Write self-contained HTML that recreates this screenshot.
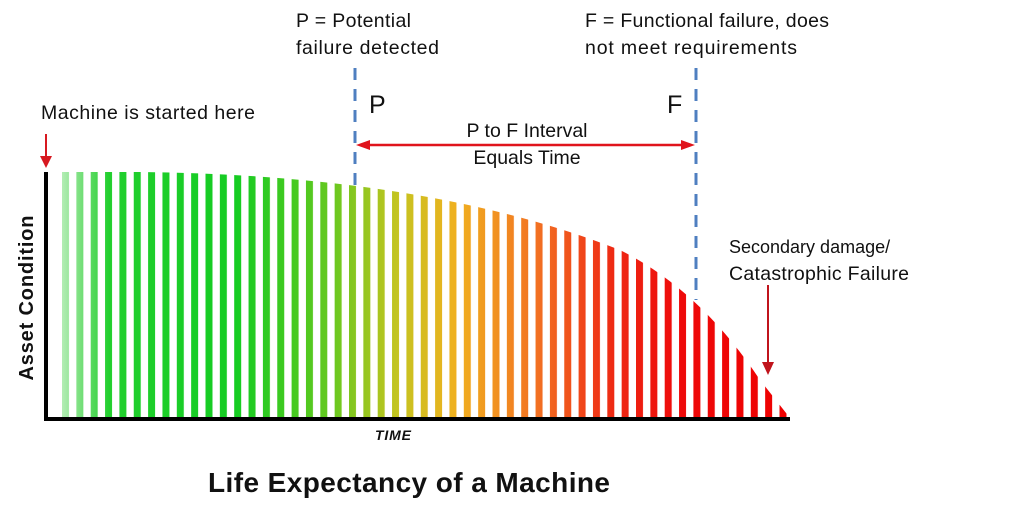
<!DOCTYPE html>
<html><head><meta charset="utf-8"><style>
html,body{margin:0;padding:0;background:#fff;}
svg{display:block;}
text{font-family:"Liberation Sans",sans-serif;fill:#111;}
</style></head><body>
<svg width="1024" height="522" viewBox="0 0 1024 522" xmlns="http://www.w3.org/2000/svg">
<defs>
<linearGradient id="g" gradientUnits="userSpaceOnUse" x1="50" y1="0" x2="790" y2="0">
<stop offset="0" stop-color="#d8f5d8"/>
<stop offset="0.04" stop-color="#7be07f"/>
<stop offset="0.08" stop-color="#22cf2e"/>
<stop offset="0.25" stop-color="#14cc22"/>
<stop offset="0.38" stop-color="#66c820"/>
<stop offset="0.47" stop-color="#c4c420"/>
<stop offset="0.55" stop-color="#f0b020"/>
<stop offset="0.66" stop-color="#f27022"/>
<stop offset="0.76" stop-color="#ee2a14"/>
<stop offset="0.85" stop-color="#ee0a0a"/>
<stop offset="1" stop-color="#ee0000"/>
</linearGradient>
<pattern id="st" patternUnits="userSpaceOnUse" x="62" y="0" width="14.35" height="600">
<rect x="0" y="0" width="7" height="600" fill="#fff"/>
</pattern>
<mask id="m"><rect x="0" y="0" width="1024" height="522" fill="url(#st)"/></mask>
<clipPath id="c"><path d="M58 172 L140 172 Q430 175 620 250 Q700 290 760 380 L790 418 L58 418 Z"/></clipPath>
</defs>
<g clip-path="url(#c)"><rect x="46" y="160" width="750" height="262" fill="url(#g)" mask="url(#m)"/></g>
<line x1="46" y1="172" x2="46" y2="421" stroke="#000" stroke-width="4"/>
<line x1="44" y1="419" x2="790" y2="419" stroke="#000" stroke-width="4"/>
<line x1="46" y1="134" x2="46" y2="160" stroke="#d71920" stroke-width="2"/>
<path d="M40 156 L52 156 L46 168 Z" fill="#d71920"/>
<line x1="768" y1="285" x2="768" y2="365" stroke="#c0141c" stroke-width="2"/>
<path d="M762 362 L774 362 L768 375 Z" fill="#c0141c"/>
<line x1="355" y1="68" x2="355" y2="190" stroke="#4f7fc0" stroke-width="3" stroke-dasharray="12,9"/>
<line x1="696" y1="68" x2="696" y2="300" stroke="#4f7fc0" stroke-width="3" stroke-dasharray="12,9"/>
<line x1="362" y1="145" x2="690" y2="145" stroke="#e0141c" stroke-width="2.5"/>
<path d="M356 145 L370 140 L370 150 Z" fill="#e0141c"/>
<path d="M695 145 L681 140 L681 150 Z" fill="#e0141c"/>
<g font-size="19.5">
<text x="41" y="119" textLength="214">Machine is started here</text>
<text x="296" y="27" textLength="115">P = Potential</text>
<text x="296" y="54" textLength="143">failure detected</text>
<text x="585" y="27" textLength="244">F = Functional failure, does</text>
<text x="585" y="54" textLength="212">not meet requirements</text>
<text x="527" y="137" text-anchor="middle">P to F Interval</text>
<text x="527" y="164" text-anchor="middle">Equals Time</text>
<text x="729" y="253" font-size="18">Secondary damage/</text>
<text x="729" y="280" textLength="180">Catastrophic Failure</text>
</g>
<text x="369" y="113" font-size="25">P</text>
<text x="667" y="113" font-size="25">F</text>
<text x="375" y="440" font-size="14" font-weight="bold" font-style="italic" textLength="36">TIME</text>
<text transform="translate(33,298) rotate(-90)" font-size="20" font-weight="bold" text-anchor="middle" textLength="165">Asset Condition</text>
<text x="208" y="492" font-size="28" font-weight="bold" textLength="402">Life Expectancy of a Machine</text>
</svg>
</body></html>
